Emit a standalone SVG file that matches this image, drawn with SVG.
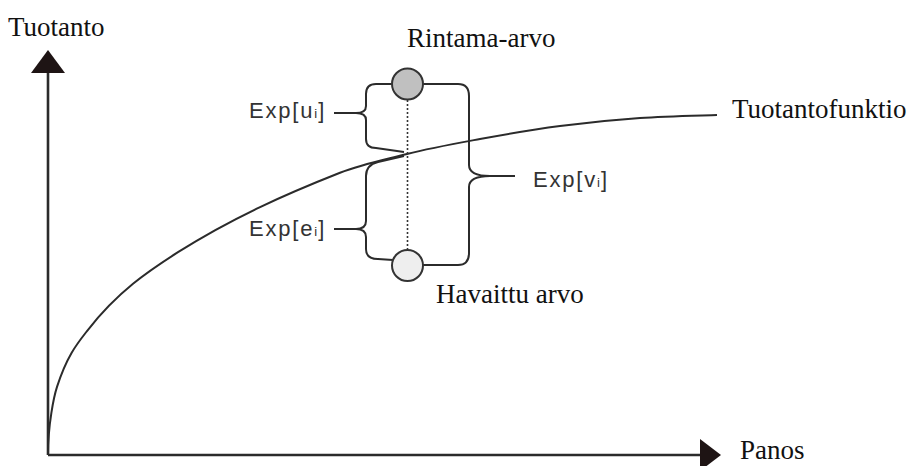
<svg xmlns="http://www.w3.org/2000/svg" width="916" height="466" viewBox="0 0 916 466">
<style>
text.serif{font-family:"Liberation Serif","DejaVu Serif","Times New Roman",serif;font-size:27px;fill:#111}
text.sans{font-family:"Liberation Sans",Arial,sans-serif;font-size:22px;fill:#333;letter-spacing:1.8px}
.sub{font-size:13px;letter-spacing:1px}
.axis{stroke:#2b2b2b;stroke-width:2.6;fill:none}
.ln{stroke:#2b2b2b;stroke-width:2;fill:none}
.arrow{fill:#1e1414}
</style>
<rect width="916" height="466" fill="#fff"/>
<g id="axes">
<line class="axis" x1="48" y1="70" x2="48" y2="455"/>
<line class="axis" x1="48" y1="455" x2="702" y2="455"/>
<polygon class="arrow" points="48,50 31,73 65,73"/>
<polygon class="arrow" points="700,439 721,455 700,471"/>
<text class="serif" font-family="Liberation Serif, serif" x="8" y="36">Tuotanto</text>
<text class="serif" font-family="Liberation Serif, serif" x="740" y="459">Panos</text>
</g>
<g id="curve">
<path class="ln" d="M48,455 C48,424 54,396.2 57,386.9 C67.3,355 77.7,343 88,329.8 C118,291.5 148,271.3 178,252.2 C232,217.9 286,194.1 340,172.8 C362,164.1 383.7,160 407,154 C430.3,148 454.5,143.7 480,139 C505.5,134.3 533.3,129.5 560,126 C586.7,122.5 613.8,119.8 640,118 C666.2,116.2 704.2,115.5 717,115"/>
<text class="serif" font-family="Liberation Serif, serif" x="732" y="118">Tuotantofunktio</text>
</g>
<g id="connectors">
<line x1="407.5" y1="100" x2="407.5" y2="249" stroke="#333" stroke-width="1.6" stroke-dasharray="2,2"/>
<path class="ln" d="M392,84 L376,84 Q366,84 366,94 L366,106 Q366,113 356,113 Q366,113 366,120 L366,139 Q366,148 376,148 L404,152"/>
<line class="ln" x1="334" y1="113" x2="358" y2="113"/>
<path class="ln" d="M404,156 L378,162 Q366,165 366,176 L366,221 Q366,229 356,229 Q366,229 366,237 L366,249 Q366,259 378,259 L393,260"/>
<line class="ln" x1="334" y1="229" x2="358" y2="229"/>
<path class="ln" d="M423,84 L458,84 Q469,84 469,96 L469,165 Q469,176 490,176 Q469,176 469,187 L469,253 Q469,265 458,265 L423,265"/>
<line class="ln" x1="488" y1="176" x2="515" y2="176"/>
</g>
<g id="rintama">
<circle cx="407.5" cy="84" r="15.5" fill="#c0c0c0" stroke="#333" stroke-width="2"/>
<text class="serif" font-family="Liberation Serif, serif" x="407" y="47">Rintama-arvo</text>
</g>
<g id="havaittu">
<circle cx="407.5" cy="265.5" r="15.5" fill="#eeeeee" stroke="#333" stroke-width="2"/>
<text class="serif" font-family="Liberation Serif, serif" x="436" y="303">Havaittu arvo</text>
</g>
<g id="labels">
<text class="sans" x="249" y="118">Exp[u<tspan class="sub">i</tspan>]</text>
<text class="sans" x="249" y="236">Exp[e<tspan class="sub">i</tspan>]</text>
<text class="sans" x="533" y="187">Exp[v<tspan class="sub">i</tspan>]</text>
</g>
</svg>
